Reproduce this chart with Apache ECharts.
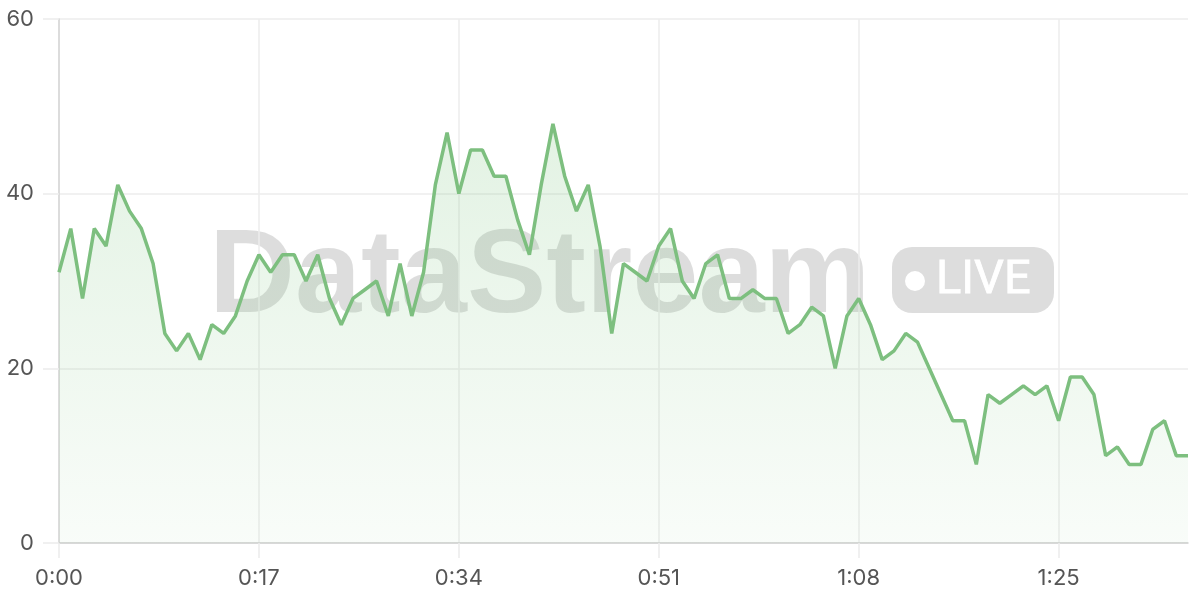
<!DOCTYPE html>
<html>
<head>
<meta charset="utf-8">
<script src="https://cdn.jsdelivr.net/npm/echarts@6/dist/echarts.min.js"></script>
<style>
html,body{margin:0;padding:0;background:#fff;}
#chart{width:1200px;height:600px;}
</style>
</head>
<body>
<div id="chart"></div>
<script>
// Elapsed seconds 0..96 shown as m:ss
const seconds = Array.from({length: 97}, (_, i) => i);
const categories = seconds.map(s => Math.floor(s / 60) + ':' + String(s % 60).padStart(2, '0'));

const values = [
  31, 36, 28, 36, 34, 41, 38, 36, 32, 24,
  22, 24, 21, 25, 24, 26, 30, 33, 31, 33,
  33, 30, 33, 28, 25, 28, 29, 30, 26, 32,
  26, 31, 41, 47, 40, 45, 45, 42, 42, 37,
  33, 41, 48, 42, 38, 41, 34, 24, 32, 31,
  30, 34, 36, 30, 28, 32, 33, 28, 28, 29,
  28, 28, 24, 25, 27, 26, 20, 26, 28, 25,
  21, 22, 24, 23, 20, 17, 14, 14, 9, 17,
  16, 17, 18, 17, 18, 14, 19, 19, 17, 10,
  11, 9, 9, 13, 14, 10, 10
];

const yTicks = [0, 20, 40, 60];
const watermarkTitle = 'DataStream';
const watermarkBadge = 'LIVE';

const chart = echarts.init(document.getElementById('chart'));
const wmColor = 'rgba(0,0,0,0.135)';
const labelFont = 'Inter, "Noto Sans", sans-serif';

chart.setOption({
  animation: false,
  backgroundColor: '#fff',
  grid: {left: 59, right: 12, top: 19, bottom: 57},
  graphic: [
    {
      type: 'text', z: 0,
      style: {
        x: 209, y: 279, text: watermarkTitle,
        font: 'bold 119px "Liberation Sans", Arial, sans-serif',
        fill: wmColor, textAlign: 'left', textVerticalAlign: 'middle'
      }
    },
    {
      type: 'rect', z: 0,
      shape: {x: 892, y: 247, width: 162, height: 66, r: 20},
      style: {fill: wmColor}
    },
    {
      type: 'circle', z: 0,
      shape: {cx: 915, cy: 281, r: 10},
      style: {fill: '#fff'}
    },
    {
      type: 'text', z: 0,
      style: {
        x: 936, y: 281, text: watermarkBadge,
        font: '400 47px Roboto, "Liberation Sans", sans-serif',
        fill: '#fff', stroke: '#fff', lineWidth: 0.8,
        textAlign: 'left', textVerticalAlign: 'middle'
      }
    }
  ],
  xAxis: {
    type: 'category',
    data: categories,
    boundaryGap: false,
    axisLine: {lineStyle: {color: '#cfcfcf', width: 1.5}},
    axisTick: {show: true, interval: 16, length: 15, lineStyle: {color: '#ececec', width: 1.5}},
    axisLabel: {interval: 16, margin: 24, color: '#555', fontSize: 22, fontFamily: labelFont},
    splitLine: {show: true, interval: 16, lineStyle: {color: '#ececec', width: 1.5}}
  },
  yAxis: {
    type: 'value',
    min: yTicks[0], max: yTicks[yTicks.length - 1], interval: 20,
    axisLine: {show: true, lineStyle: {color: '#d4d4d4', width: 1.5}},
    axisTick: {show: true, length: 16, lineStyle: {color: '#ececec', width: 1.5}},
    axisLabel: {margin: 25, color: '#555', fontSize: 22, fontFamily: labelFont},
    splitLine: {show: true, lineStyle: {color: '#ececec', width: 1.5}}
  },
  series: [{
    type: 'line',
    data: values,
    symbol: 'none',
    z: 3,
    lineStyle: {color: '#7dbf7f', width: 3.5},
    areaStyle: {
      color: new echarts.graphic.LinearGradient(0, 0, 0, 1, [
        {offset: 0, color: 'rgba(129,199,132,0.32)'},
        {offset: 1, color: 'rgba(129,199,132,0.07)'}
      ])
    }
  }]
});
</script>
</body>
</html>
